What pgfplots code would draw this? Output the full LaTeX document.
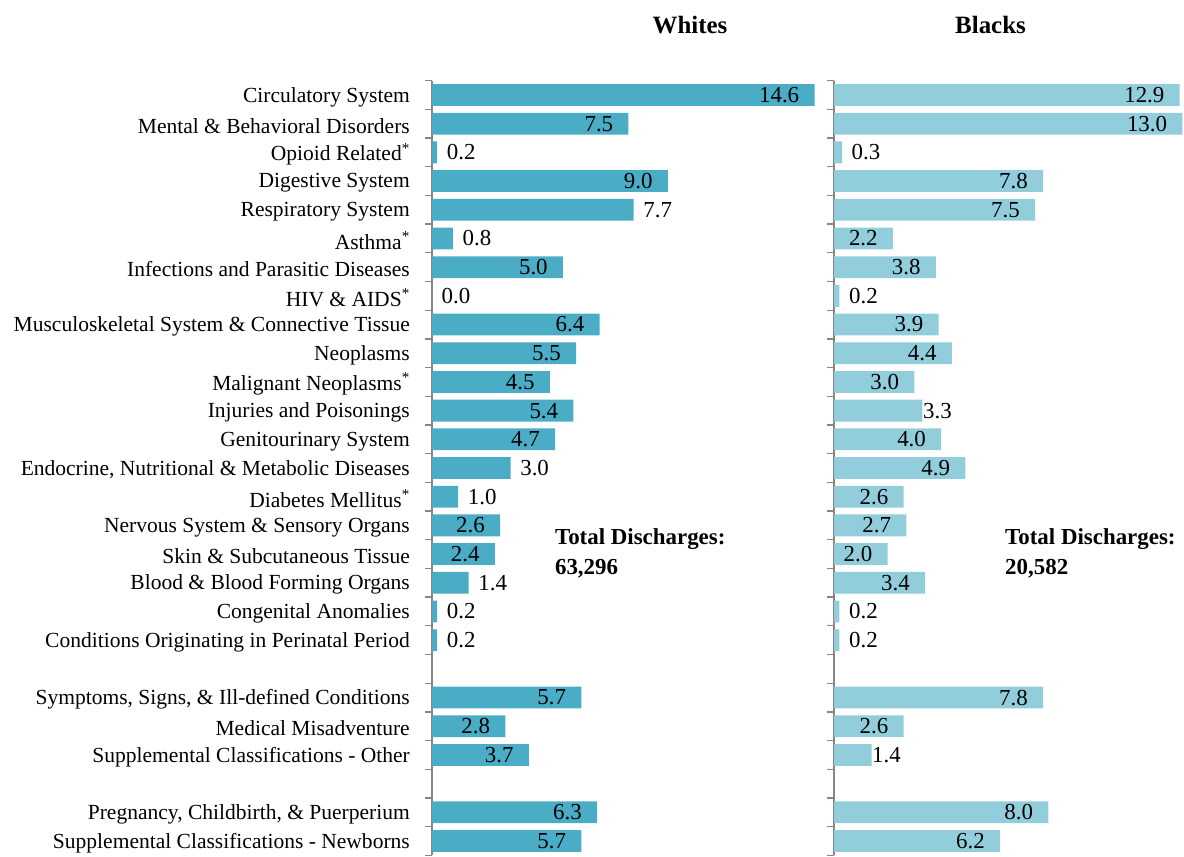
\documentclass[border=0pt]{standalone}
\usepackage{fontspec}
\setmainfont{Liberation Serif}
\usepackage{pgfplots}
\pgfplotsset{compat=1.18}
\definecolor{wbar}{RGB}{75,172,198}
\definecolor{bbar}{RGB}{146,205,220}
\definecolor{tickgray}{RGB}{134,134,134}
\pgfplotsset{
 panel/.style={
  scale only axis, height=774.7bp, ymin=-0.5, ymax=26.5, y dir=reverse, xmin=0,
  axis x line=none, axis y line*=left,
  y axis line style={-, draw=tickgray, line width=1.3bp},
  ytick={0,...,26}, major tick length=0pt,
  minor ytick={-0.5,0.5,...,26.5}, minor tick length=7bp, tick align=outside,
  minor tick style={draw=tickgray, line width=1.3bp},
  xbar, bar width=21.8bp, bar shift=0pt, clip=false,
  yticklabel style={font=\fontsize{21.6}{24}\selectfont, inner sep=0pt, xshift=-22bp, yshift=-2bp},
  /pgf/number format/assume math mode=true,
  point meta=x,
 },
 lbl in/.style={draw=none, fill=none, nodes near coords={\makebox[0pt][r]{\pgfmathprintnumber[fixed,fixed zerofill,precision=1,assume math mode=true]{\pgfplotspointmeta}}},
   every node near coord/.append style={inner sep=0pt, xshift=-16bp, font=\fontsize{23}{26}\selectfont, text=black}},
 lbl out/.style={draw=none, fill=none, nodes near coords={\makebox[0pt][l]{\pgfmathprintnumber[fixed,fixed zerofill,precision=1,assume math mode=true]{\pgfplotspointmeta}}},
   every node near coord/.append style={inner sep=0pt, xshift=#1, font=\fontsize{23}{26}\selectfont, text=black}},
}
\begin{document}
\begin{tikzpicture}
\useasboundingbox (0,0) rectangle (1184bp,857bp);
% Whites
\begin{axis}[panel, at={(432bp,1.65bp)}, anchor=south west, width=382.5bp, xmax=14.6,
 yticklabels={Circulatory System, Mental \& Behavioral Disorders, Opioid Related\textsuperscript{*}, Digestive System, Respiratory System, Asthma\textsuperscript{*}, Infections and Parasitic Diseases, HIV \& AIDS\textsuperscript{*}, Musculoskeletal System \& Connective Tissue, Neoplasms, Malignant Neoplasms\textsuperscript{*}, Injuries and Poisonings, Genitourinary System, {Endocrine, Nutritional \& Metabolic Diseases}, Diabetes Mellitus\textsuperscript{*}, Nervous System \& Sensory Organs, Skin \& Subcutaneous Tissue, Blood \& Blood Forming Organs, Congenital Anomalies, Conditions Originating in Perinatal Period, {}, {Symptoms, Signs, \& Ill-defined Conditions}, Medical Misadventure, Supplemental Classifications - Other, {}, {Pregnancy, Childbirth, \& Puerperium}, Supplemental Classifications - Newborns}]
\addplot[fill=wbar, draw=none] coordinates {(14.6,0) (7.5,1) (0.2,2) (9.0,3) (7.7,4) (0.8,5) (5.0,6) (0.0,7) (6.4,8) (5.5,9) (4.5,10) (5.4,11) (4.7,12) (3.0,13) (1.0,14) (2.6,15) (2.4,16) (1.4,17) (0.2,18) (0.2,19) (5.7,21) (2.8,22) (3.7,23) (6.3,25) (5.7,26)};
\addplot[lbl in] coordinates {(14.6,0) (7.5,1) (9.0,3) (5.0,6) (6.4,8) (5.5,9) (4.5,10) (5.4,11) (4.7,12) (2.6,15) (2.4,16) (5.7,21) (2.8,22) (3.7,23) (6.3,25) (5.7,26)};
\addplot[lbl out=9bp] coordinates {(0.2,2) (7.7,4) (0.8,5) (0.0,7) (3.0,13) (1.0,14) (1.4,17) (0.2,18) (0.2,19)};
\node[anchor=base, font=\bfseries\fontsize{25}{28}\selectfont] at (axis cs:9.85,-2.16) {Whites};
\node[anchor=base west, font=\bfseries\fontsize{23}{26}\selectfont, inner sep=0pt] at (axis cs:4.69,15.68) {Total Discharges:};
\node[anchor=base west, font=\bfseries\fontsize{23}{26}\selectfont, inner sep=0pt] at (axis cs:4.69,16.72) {63,296};
\end{axis}
% Blacks
\begin{axis}[panel, at={(834bp,1.65bp)}, anchor=south west, width=348.4bp, xmax=13.0, yticklabels={}]
\addplot[fill=bbar, draw=none] coordinates {(12.9,0) (13.0,1) (0.3,2) (7.8,3) (7.5,4) (2.2,5) (3.8,6) (0.2,7) (3.9,8) (4.4,9) (3.0,10) (3.3,11) (4.0,12) (4.9,13) (2.6,14) (2.7,15) (2.0,16) (3.4,17) (0.2,18) (0.2,19) (7.8,21) (2.6,22) (1.4,23) (8.0,25) (6.2,26)};
\addplot[lbl in] coordinates {(12.9,0) (13.0,1) (7.8,3) (7.5,4) (2.2,5) (3.8,6) (3.9,8) (4.4,9) (3.0,10) (4.0,12) (4.9,13) (2.6,14) (2.7,15) (2.0,16) (3.4,17) (7.8,21) (2.6,22) (8.0,25) (6.2,26)};
\addplot[lbl out=9bp] coordinates {(0.3,2) (0.2,7) (0.2,18) (0.2,19)};
\addplot[lbl out=0bp] coordinates {(3.3,11) (1.4,23)};
\node[anchor=base, font=\bfseries\fontsize{25}{28}\selectfont] at (axis cs:5.84,-2.16) {Blacks};
\node[anchor=base west, font=\bfseries\fontsize{23}{26}\selectfont, inner sep=0pt] at (axis cs:6.38,15.68) {Total Discharges:};
\node[anchor=base west, font=\bfseries\fontsize{23}{26}\selectfont, inner sep=0pt] at (axis cs:6.38,16.72) {20,582};
\end{axis}
\end{tikzpicture}
\end{document}
